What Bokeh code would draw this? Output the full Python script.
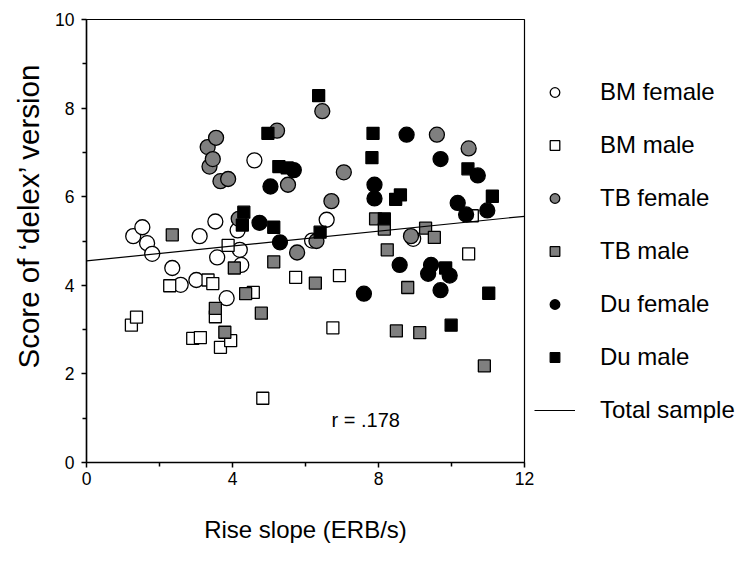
import math
import numpy as np
from bokeh.plotting import figure
from bokeh.models import (Range1d, FixedTicker, Legend, LegendItem, Label, ColumnDataSource, Title)
from bokeh.embed import file_html
from bokeh.resources import INLINE

# ---- data ----
bm_female_x = [1.28, 1.53, 1.66, 1.80, 2.35, 2.58, 3.01, 3.10, 3.53, 3.58, 3.84, 4.14, 4.20, 4.24, 4.60, 6.18, 6.58, 8.95]
bm_female_y = [5.11, 5.31, 4.95, 4.71, 4.39, 4.01, 4.12, 5.11, 5.44, 4.63, 3.71, 5.24, 4.80, 4.46, 6.82, 5.01, 5.48, 5.05]

bm_male_x = [1.23, 1.37, 2.28, 2.91, 3.12, 3.33, 3.46, 3.53, 3.67, 3.88, 3.95, 4.57, 4.83, 5.73, 6.75, 6.93, 10.47, 10.57]
bm_male_y = [3.10, 3.28, 3.99, 2.80, 2.82, 4.12, 4.04, 3.29, 2.60, 4.90, 2.75, 3.84, 1.45, 4.18, 3.04, 4.22, 4.71, 5.57]

tb_female_x = [3.32, 3.37, 3.46, 3.55, 3.67, 3.88, 4.17, 5.22, 5.52, 5.77, 6.30, 6.46, 6.71, 7.05, 8.89, 9.60, 10.47]
tb_female_y = [7.12, 6.68, 6.85, 7.33, 6.35, 6.40, 5.50, 7.49, 6.27, 4.74, 5.00, 7.93, 5.90, 6.55, 5.11, 7.40, 7.09]

tb_male_x = [2.35, 3.53, 3.79, 4.05, 4.36, 4.79, 5.13, 6.27, 7.92, 8.16, 8.24, 8.80, 8.49, 9.13, 9.29, 9.53, 10.90]
tb_male_y = [5.14, 3.48, 2.94, 4.39, 3.81, 3.37, 4.53, 4.05, 5.50, 5.27, 4.80, 3.95, 2.97, 2.93, 5.29, 5.08, 2.18]

du_female_x = [4.74, 5.04, 5.30, 5.68, 7.60, 7.89, 7.89, 8.58, 8.77, 9.36, 9.44, 9.70, 9.70, 9.95, 10.17, 10.40, 10.72, 10.98]
du_female_y = [5.41, 6.23, 4.97, 6.60, 3.81, 6.27, 5.96, 4.46, 7.40, 4.26, 4.46, 6.85, 3.89, 4.22, 5.86, 5.60, 6.48, 5.69]

du_male_x = [4.27, 4.31, 4.97, 5.13, 5.27, 5.50, 6.36, 6.40, 7.85, 7.82, 8.16, 8.47, 8.60, 9.84, 9.99, 10.45, 11.02, 11.12]
du_male_y = [5.36, 5.65, 7.43, 5.31, 6.68, 6.65, 8.28, 5.20, 7.43, 6.88, 5.50, 5.94, 6.04, 4.39, 3.10, 6.63, 3.82, 6.01]

fit_intercept = 4.55
fit_slope = 0.084
fit_x = [0, 12]

x_ticks = [0, 4, 8, 12]
x_minor = [2, 6, 10]
y_ticks = [0, 2, 4, 6, 8, 10]
y_minor = [1, 3, 5, 7, 9]

r_text = "r = .178"
r_pos = (7.65, 0.95)

FONT = "Liberation Sans"
GRAY = "#7f7f7f"

p = figure(width=745, height=564, frame_width=438, frame_height=443,
           x_range=Range1d(0, 12), y_range=Range1d(0, 10),
           output_backend="svg", toolbar_location=None,
           min_border_left=86, min_border_right=221, min_border_top=19, min_border_bottom=102)
p.xgrid.visible = False
p.ygrid.visible = False
p.outline_line_color = "black"
p.outline_line_width = 1.2
p.background_fill_color = "white"
p.border_fill_color = "white"

for ax, tk, mn in ((p.xaxis[0], x_ticks, x_minor), (p.yaxis[0], y_ticks, y_minor)):
    ax.ticker = FixedTicker(ticks=tk, minor_ticks=mn)
    ax.axis_line_width = 1.5
    ax.axis_line_color = "black"
    ax.major_tick_line_width = 1.5
    ax.minor_tick_line_width = 1.5
    ax.major_tick_in = 0
    ax.minor_tick_in = 0
    ax.major_tick_out = 5
    ax.minor_tick_out = 4
    ax.major_label_text_font = FONT
    ax.major_label_text_font_size = "17.5px"
    ax.major_label_text_color = "black"
p.yaxis[0].major_label_standoff = 7
p.xaxis[0].major_label_standoff = 4

p.xaxis[0].axis_label = "Rise slope (ERB/s)"
p.xaxis[0].axis_label_text_font = FONT
p.xaxis[0].axis_label_text_font_size = "24px"
p.xaxis[0].axis_label_text_font_style = "normal"
p.xaxis[0].axis_label_text_color = "black"
p.xaxis[0].axis_label_standoff = 28

ytitle = Title(text="Score of \u2018delex\u2019 version", align="left", offset=94,
               vertical_align="top",
               text_font=FONT, text_font_size="29.5px", text_font_style="normal",
               text_color="black", standoff=12)
p.add_layout(ytitle, "left")

def mk(xs, ys, marker, size, fill):
    src = ColumnDataSource(dict(x=xs, y=ys))
    return p.scatter("x", "y", source=src, marker=marker, size=size, fill_color=fill,
                     line_color="black", line_width=1.3)

r1 = mk(bm_female_x, bm_female_y, "circle", 15, "white")
r2 = mk(bm_male_x, bm_male_y, "square", 12, "white")
r3 = mk(tb_female_x, tb_female_y, "circle", 15, GRAY)
r4 = mk(tb_male_x, tb_male_y, "square", 12, GRAY)
r5 = mk(du_female_x, du_female_y, "circle", 15, "black")
r6 = mk(du_male_x, du_male_y, "square", 12, "black")

fy = [fit_intercept + fit_slope * v for v in fit_x]
r7 = p.line(fit_x, fy, line_color="black", line_width=1.2)

p.add_layout(Label(x=r_pos[0], y=r_pos[1], text=r_text, text_font=FONT, text_font_size="20px",
                   text_align="center", text_baseline="middle", text_color="black"))

legend = Legend(items=[
    LegendItem(label="BM female", renderers=[r1]),
    LegendItem(label="BM male", renderers=[r2]),
    LegendItem(label="TB female", renderers=[r3]),
    LegendItem(label="TB male", renderers=[r4]),
    LegendItem(label="Du female", renderers=[r5]),
    LegendItem(label="Du male", renderers=[r6]),
    LegendItem(label="Total sample", renderers=[r7]),
], location=(10, 38))
legend.glyph_width = 41
legend.glyph_height = 24
legend.label_height = 28
legend.spacing = 25
legend.label_standoff = 25
legend.padding = 0
legend.margin = 0
legend.border_line_color = None
legend.background_fill_alpha = 0
legend.label_text_font = FONT
legend.label_text_font_size = "24px"
legend.label_text_color = "black"
p.add_layout(legend, "right")

open("out.html", "w").write(file_html(p, INLINE))
